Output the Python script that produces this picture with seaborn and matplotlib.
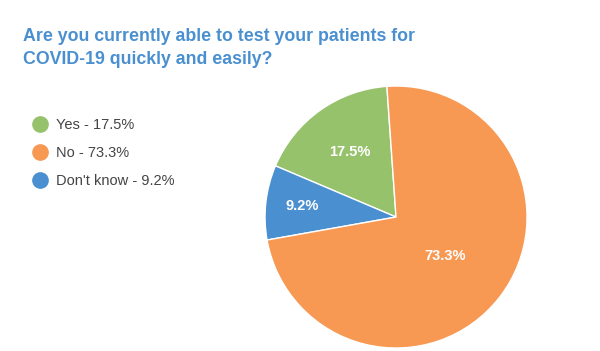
import numpy as np
import seaborn as sns
import matplotlib.pyplot as plt
from matplotlib.lines import Line2D

# data
answers = ["Yes", "Don't know", "No"]
shares = [17.5, 9.2, 73.3]
colors = ["#97c26c", "#4a8fcf", "#f79853"]
legend_order = ["Yes", "No", "Don't know"]
label_dist = [0.61, 0.72, 0.48]  # how far out each % label sits

title = "Are you currently able to test your patients for\nCOVID-19 quickly and easily?"

sns.set_theme(style="white")
plt.rcParams['font.family'] = ['Liberation Sans', 'DejaVu Sans']

fig = plt.figure(figsize=(6, 3.51), dpi=100)
ax = fig.add_axes([0.4417, 0.0085, 0.4367, 0.7464])

wedges, texts, autotexts = ax.pie(
    shares, colors=colors, startangle=94, counterclock=True,
    autopct="%.1f%%", pctdistance=0.6,
    wedgeprops=dict(edgecolor="white", linewidth=1.0),
    textprops=dict(color="white", fontsize=10.5, fontweight="bold"))

# push each % label to its own radius along the wedge middle
for w, t, d in zip(wedges, autotexts, label_dist):
    mid = np.deg2rad((w.theta1 + w.theta2) / 2)
    t.set_position((d * np.cos(mid), d * np.sin(mid)))

ax.set_xlim(-1.0, 1.0)
ax.set_ylim(-1.0, 1.0)
ax.set_aspect("equal")
ax.axis("off")

fig.text(23 / 600, 1 - 28 / 351, title, color="#4a90d0", fontsize=12.8,
         fontweight="bold", va="top", ha="left", linespacing=1.48)

handles = []
for name in legend_order:
    i = answers.index(name)
    handles.append(Line2D([], [], marker="o", linestyle="", markersize=11,
                          markerfacecolor=colors[i], markeredgecolor=colors[i],
                          label=f"{name} - {shares[i]}%"))
fig.legend(handles=handles, loc="upper left", bbox_to_anchor=(20 / 600, 1 - 105 / 351),
           frameon=False, fontsize=10.5, labelspacing=0.95, handletextpad=0.55,
           handlelength=1.0, labelcolor="#444444")

fig.savefig("out.png", dpi=100)
